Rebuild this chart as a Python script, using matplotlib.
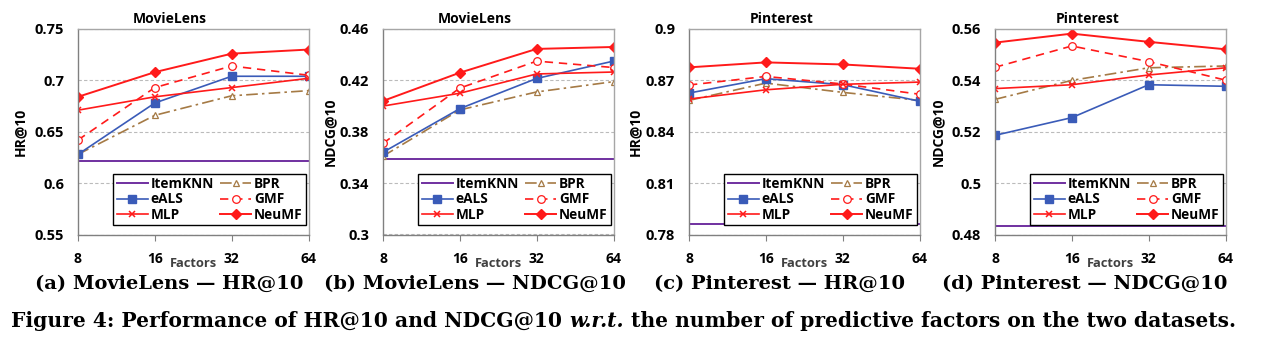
import matplotlib
matplotlib.use('Agg')
import matplotlib.pyplot as plt
from matplotlib.ticker import FuncFormatter

plt.rcParams['font.family'] = ['Open Sans', 'DejaVu Sans']
plt.rcParams['font.weight'] = 'bold'

factors = ['8', '16', '32', '64']

# (a) MovieLens HR@10
ml_hr_itemknn = 0.622
ml_hr_bpr = [0.628, 0.666, 0.685, 0.690]
ml_hr_eals = [0.628, 0.678, 0.704, 0.704]
ml_hr_gmf = [0.642, 0.693, 0.714, 0.705]
ml_hr_mlp = [0.671, 0.684, 0.693, 0.702]
ml_hr_neumf = [0.684, 0.708, 0.726, 0.730]

# (b) MovieLens NDCG@10
ml_ndcg_itemknn = 0.359
ml_ndcg_bpr = [0.361, 0.397, 0.411, 0.419]
ml_ndcg_eals = [0.364, 0.398, 0.4215, 0.435]
ml_ndcg_gmf = [0.371, 0.414, 0.435, 0.430]
ml_ndcg_mlp = [0.400, 0.410, 0.425, 0.4265]
ml_ndcg_neumf = [0.404, 0.426, 0.4445, 0.446]

# (c) Pinterest HR@10
pin_hr_itemknn = 0.786
pin_hr_bpr = [0.8583, 0.8684, 0.863, 0.8583]
pin_hr_eals = [0.8626, 0.871, 0.8675, 0.8578]
pin_hr_gmf = [0.8673, 0.8723, 0.8679, 0.8619]
pin_hr_mlp = [0.8591, 0.8645, 0.8677, 0.869]
pin_hr_neumf = [0.8776, 0.8805, 0.8793, 0.8768]

# (d) Pinterest NDCG@10
pin_ndcg_itemknn = 0.4832
pin_ndcg_bpr = [0.5326, 0.540, 0.5449, 0.5456]
pin_ndcg_eals = [0.5186, 0.5255, 0.5383, 0.5377]
pin_ndcg_gmf = [0.5451, 0.5534, 0.5473, 0.5401]
pin_ndcg_mlp = [0.5368, 0.5383, 0.5421, 0.5449]
pin_ndcg_neumf = [0.5547, 0.5582, 0.555, 0.5521]

panels = [
    ('MovieLens', 'HR@10', (0.55, 0.75), [0.55, 0.6, 0.65, 0.7, 0.75],
     ml_hr_itemknn, ml_hr_bpr, ml_hr_eals, ml_hr_gmf, ml_hr_mlp, ml_hr_neumf),
    ('MovieLens', 'NDCG@10', (0.3, 0.46), [0.3, 0.34, 0.38, 0.42, 0.46],
     ml_ndcg_itemknn, ml_ndcg_bpr, ml_ndcg_eals, ml_ndcg_gmf, ml_ndcg_mlp, ml_ndcg_neumf),
    ('Pinterest', 'HR@10', (0.78, 0.9), [0.78, 0.81, 0.84, 0.87, 0.9],
     pin_hr_itemknn, pin_hr_bpr, pin_hr_eals, pin_hr_gmf, pin_hr_mlp, pin_hr_neumf),
    ('Pinterest', 'NDCG@10', (0.48, 0.56), [0.48, 0.5, 0.52, 0.54, 0.56],
     pin_ndcg_itemknn, pin_ndcg_bpr, pin_ndcg_eals, pin_ndcg_gmf, pin_ndcg_mlp, pin_ndcg_neumf),
]

subcaptions = ['(a) MovieLens \u2014 HR@10', '(b) MovieLens \u2014 NDCG@10',
               '(c) Pinterest \u2014 HR@10', '(d) Pinterest \u2014 NDCG@10']

W, H = 1271, 343
fig = plt.figure(figsize=(W / 100, H / 100), dpi=100)

lefts = [78, 383, 689, 995]
ylabel_x = [-0.222, -0.2, -0.204, -0.217]
sub_x = [169, 475, 780, 1085]
serif = ['DejaVu Serif']

red = '#FF1A1A'
x = list(range(len(factors)))
for i, (title, metric, ylim, yticks, knn, bpr, eals, gmf, mlp, neumf) in enumerate(panels):
    ax = fig.add_axes([lefts[i] / W, (H - 234.5) / H, 230.5 / W, 205.5 / H])
    h_knn = ax.axhline(knn, color='#7030A0', lw=1.4, label='ItemKNN')
    h_bpr, = ax.plot(x, bpr, color='#A57A45', lw=1.2, dashes=(7, 2.5, 1.5, 2.5),
                     marker='^', ms=5, mfc='white', mew=0.9, label='BPR')
    h_eals, = ax.plot(x, eals, color='#3A5BB8', lw=1.2, marker='s', ms=5.5, label='eALS')
    h_gmf, = ax.plot(x, gmf, color=red, lw=1.2, dashes=(5, 3.5), marker='o', ms=5.5,
                     mfc='white', mew=0.9, label='GMF')
    h_mlp, = ax.plot(x, mlp, color=red, lw=1.2, marker='x', ms=5, mew=1.1, label='MLP')
    h_neumf, = ax.plot(x, neumf, color=red, lw=1.4, marker='D', ms=5.5, label='NeuMF')

    ax.set_xlim(0, 3)
    ax.set_ylim(*ylim)
    ax.set_yticks(yticks)
    ax.yaxis.set_major_formatter(FuncFormatter(lambda v, p: '%g' % round(v, 4)))
    ax.set_xticks(x)
    ax.set_xticklabels(factors)
    ax.grid(axis='y', color='#BBBBBB', ls=(0, (3, 2)), lw=0.8)
    ax.set_axisbelow(True)
    for s in ['top', 'right']:
        ax.spines[s].set_color('#A6A6A6')
    for s in ['left', 'bottom']:
        ax.spines[s].set_color('#808080')
    for s in ax.spines.values():
        s.set_linewidth(1.0)
    ax.tick_params(axis='y', length=0, pad=10, labelsize=10.5)
    ax.tick_params(axis='x', length=4, color='#808080', direction='out', pad=8.5, labelsize=10)

    ax.set_title(title, fontsize=10, fontweight='bold', x=0.4, pad=4)
    ax.set_ylabel(metric, fontsize=10, fontweight='bold')
    ax.yaxis.set_label_coords(ylabel_x[i], 0.5)
    ax.text(0.5, -0.14, 'Factors', transform=ax.transAxes, ha='center', va='center',
            fontsize=9.3, fontweight='bold', color='#404040')

    ax.legend([h_knn, h_eals, h_mlp, h_bpr, h_gmf, h_neumf],
              ['ItemKNN', 'eALS', 'MLP', 'BPR', 'GMF', 'NeuMF'],
              ncol=2, loc='lower right', bbox_to_anchor=(0.99, 0.045),
              fontsize=9.8, frameon=True, fancybox=False, edgecolor='black',
              framealpha=1, borderpad=0.25, labelspacing=0.1, handlelength=2.3,
              handletextpad=0.2, columnspacing=0.45, borderaxespad=0)

    fig.text(sub_x[i] / W, 1 - 284 / H, subcaptions[i], ha='center', va='center',
             fontsize=14, family=serif, fontweight='bold')

# figure caption in three pieces (bold, bold italic, bold)
cap_y = 1 - 321 / H
parts = [('Figure 4: Performance of HR@10 and NDCG@10 ', 'normal'),
         ('w.r.t.', 'italic'),
         (' the number of predictive factors on the two datasets.', 'normal')]
renderer = fig.canvas.get_renderer()
xpos = 11 / W
for txt, style in parts:
    t = fig.text(xpos, cap_y, txt, ha='left', va='center', fontsize=14.6,
                 family=serif, style=style, fontweight='bold')
    bb = t.get_window_extent(renderer=renderer)
    xpos += bb.width / W

fig.savefig('out.png', dpi=100)
